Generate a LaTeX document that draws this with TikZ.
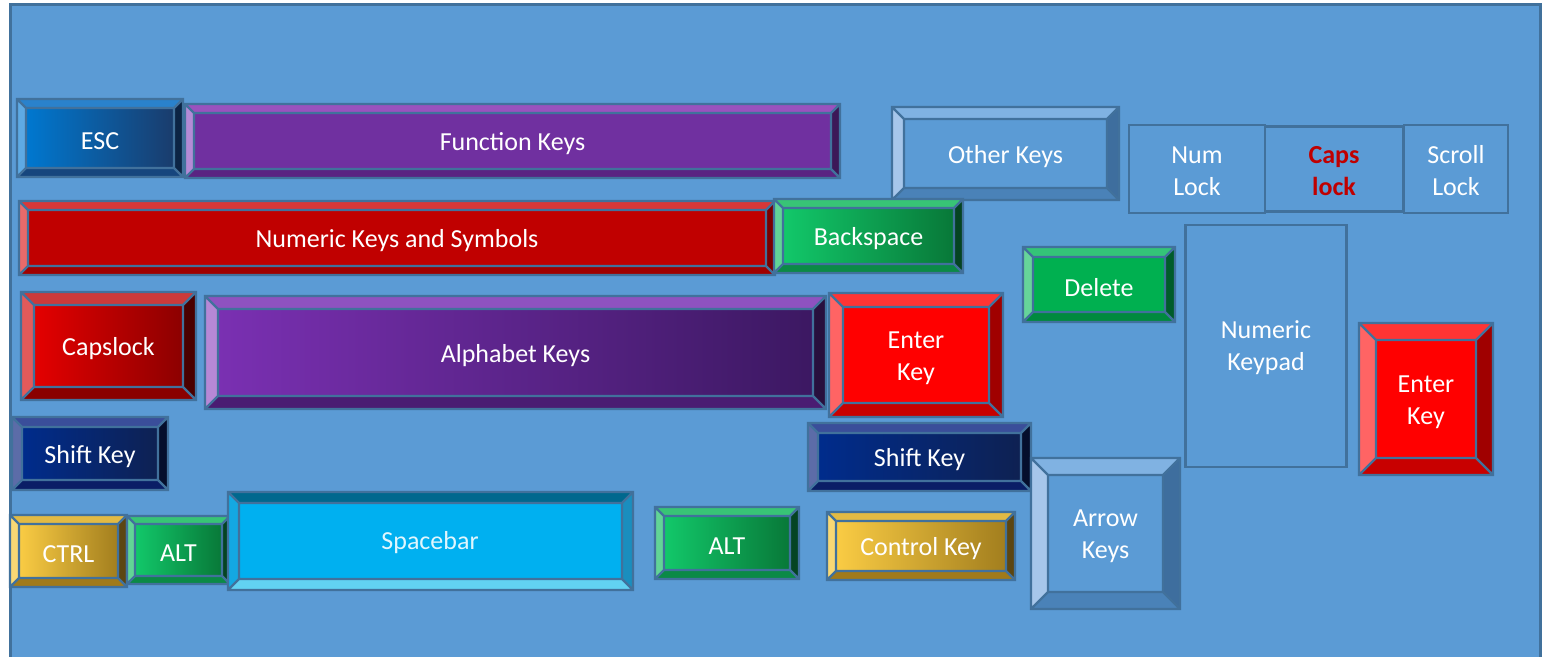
\documentclass[tikz,border=0pt]{standalone}
\usepackage{fontspec}
\setmainfont{Carlito}
\definecolor{bgblue}{HTML}{5B9BD5}
\definecolor{keyline}{HTML}{41719C}
\definecolor{capsred}{HTML}{C00000}
% esc
\definecolor{escF1}{HTML}{0078D0}\definecolor{escF2}{HTML}{1A3C6C}
\definecolor{escT}{HTML}{2A82CC}\definecolor{escL}{HTML}{5EAAE4}
\definecolor{escR}{HTML}{0C2444}\definecolor{escB}{HTML}{16467E}
% function purple
\definecolor{fnkF1}{HTML}{7030A0}\definecolor{fnkF2}{HTML}{7030A0}
\definecolor{fnkT}{HTML}{9A52BE}\definecolor{fnkL}{HTML}{B48AD6}
\definecolor{fnkR}{HTML}{3C1858}\definecolor{fnkB}{HTML}{5A2482}
% numeric dark red
\definecolor{numkF1}{HTML}{C00000}\definecolor{numkF2}{HTML}{C00000}
\definecolor{numkT}{HTML}{D83838}\definecolor{numkL}{HTML}{E86A6A}
\definecolor{numkR}{HTML}{7A0000}\definecolor{numkB}{HTML}{A00000}
% green gradient
\definecolor{grnF1}{HTML}{12C86A}\definecolor{grnF2}{HTML}{087838}
\definecolor{grnT}{HTML}{38C476}\definecolor{grnL}{HTML}{62D496}
\definecolor{grnR}{HTML}{054422}\definecolor{grnB}{HTML}{0B8A46}
% other blue
\definecolor{othF1}{HTML}{5B9BD5}\definecolor{othF2}{HTML}{5B9BD5}
\definecolor{othT}{HTML}{80B2E2}\definecolor{othL}{HTML}{A6C6EA}
\definecolor{othR}{HTML}{3E6E9E}\definecolor{othB}{HTML}{4A82B8}
% delete green
\definecolor{delF1}{HTML}{00B050}\definecolor{delF2}{HTML}{00B050}
\definecolor{delT}{HTML}{34C478}\definecolor{delL}{HTML}{66D49A}
\definecolor{delR}{HTML}{005C2A}\definecolor{delB}{HTML}{008A3E}
% capslock red gradient
\definecolor{capF1}{HTML}{E40000}\definecolor{capF2}{HTML}{8C0000}
\definecolor{capT}{HTML}{CC3A3A}\definecolor{capL}{HTML}{E25A5A}
\definecolor{capR}{HTML}{4A0000}\definecolor{capB}{HTML}{8A0000}
% alphabet purple gradient
\definecolor{alpF1}{HTML}{7A30B2}\definecolor{alpF2}{HTML}{3C1862}
\definecolor{alpT}{HTML}{8E52C0}\definecolor{alpL}{HTML}{B688D6}
\definecolor{alpR}{HTML}{28103E}\definecolor{alpB}{HTML}{4A1C72}
% enter red
\definecolor{entF1}{HTML}{FF0000}\definecolor{entF2}{HTML}{FF0000}
\definecolor{entT}{HTML}{FF3434}\definecolor{entL}{HTML}{FF6464}
\definecolor{entR}{HTML}{A00000}\definecolor{entB}{HTML}{C80000}
% shift navy
\definecolor{shfF1}{HTML}{002C8C}\definecolor{shfF2}{HTML}{0E2152}
\definecolor{shfT}{HTML}{3A4E9A}\definecolor{shfL}{HTML}{5C6CA8}
\definecolor{shfR}{HTML}{050E2C}\definecolor{shfB}{HTML}{0A1E66}
% ctrl gold
\definecolor{ctlF1}{HTML}{FACC44}\definecolor{ctlF2}{HTML}{A27E1E}
\definecolor{ctlT}{HTML}{E2BA44}\definecolor{ctlL}{HTML}{F8D874}
\definecolor{ctlR}{HTML}{5C4612}\definecolor{ctlB}{HTML}{A07A1A}
% spacebar cyan
\definecolor{spcF1}{HTML}{00B0F0}\definecolor{spcF2}{HTML}{00B0F0}
\definecolor{spcT}{HTML}{00688E}\definecolor{spcL}{HTML}{14A8E2}
\definecolor{spcR}{HTML}{1A8EBE}\definecolor{spcB}{HTML}{62D2F2}

\tikzset{
  keyedge/.style={draw=keyline, line width=2.4pt, line join=miter},
  keytext/.style={text=white, font=\fontsize{26}{32}\selectfont, align=center, inner sep=0pt},
  lockbox/.style={draw=keyline, line width=2.4pt, text=white, font=\fontsize{26}{32}\selectfont, align=center, inner sep=0pt},
}
% name, scheme, x1, y1, x2, y2, bevel, text
\newcommand\kcap[8]{%
  \fill[#2T] (#3,#4) -- (#5,#4) -- ({#5-#7},{#4+#7}) -- ({#3+#7},{#4+#7}) -- cycle;
  \fill[#2B] (#3,#6) -- (#5,#6) -- ({#5-#7},{#6-#7}) -- ({#3+#7},{#6-#7}) -- cycle;
  \fill[#2L] (#3,#4) -- ({#3+#7},{#4+#7}) -- ({#3+#7},{#6-#7}) -- (#3,#6) -- cycle;
  \fill[#2R] (#5,#4) -- ({#5-#7},{#4+#7}) -- ({#5-#7},{#6-#7}) -- (#5,#6) -- cycle;
  \shade[left color=#2F1, right color=#2F2] ({#3+#7},{#4+#7}) rectangle ({#5-#7},{#6-#7});
  \draw[keyedge] (#3,#4) rectangle (#5,#6) ({#3+#7},{#4+#7}) rectangle ({#5-#7},{#6-#7})
    (#3,#4) -- ({#3+#7},{#4+#7}) (#5,#4) -- ({#5-#7},{#4+#7})
    (#3,#6) -- ({#3+#7},{#6-#7}) (#5,#6) -- ({#5-#7},{#6-#7});
  \node[keytext] (#1) at ({(#3+#5)/2},{(#4+#6)/2+3}) {#8};
}

\begin{document}
\begin{tikzpicture}[x=1pt, y=-1pt]
\useasboundingbox (0,0) rectangle (1546,656);
\clip (0,0) rectangle (1546,656);
\fill[white] (0,0) rectangle (1546,656);
\fill[bgblue] (10,4) rectangle (1540,700);
\draw[keyline, line width=3pt] (10,4) rectangle (1540,700);

% row 1
\kcap{esc}{esc}{17}{99}{183}{177}{9}{ESC}
\kcap{fkeys}{fnk}{185}{104}{840}{178}{9}{Function Keys}
\kcap{other}{oth}{892}{107}{1119}{200}{12}{Other Keys}
\node[lockbox, minimum width=136pt, minimum height=88pt] (numlock) at (1197,169) {};
\node[keytext] (numlocktext) at (1197,171) {Num\\Lock};
\node[lockbox, minimum width=138pt, minimum height=85pt] (capslock) at (1334,169) {};
\node[keytext, text=capsred, font=\fontsize{26}{32}\selectfont\bfseries] (capslocktext) at (1334,171) {Caps\\lock};
\node[lockbox, minimum width=104pt, minimum height=88pt] (scrolllock) at (1456,169) {};
\node[keytext] (scrolllocktext) at (1456,171) {Scroll\\Lock};

% row 2
\kcap{numkeys}{numk}{19}{201}{775}{275}{9}{Numeric Keys and Symbols}
\kcap{backspace}{grn}{774}{199}{963}{273}{9}{Backspace}
\kcap{delete}{del}{1023}{247}{1175}{322}{10}{Delete}
\node[lockbox, minimum width=161pt, minimum height=242pt] (keypad) at (1266,346) {};
\node[keytext] (keypadtext) at (1266,348) {Numeric\\Keypad};

% row 3
\kcap{capskey}{cap}{21}{292}{196}{400}{13}{Capslock}
\kcap{alpha}{alp}{205}{296}{826}{409}{13}{Alphabet Keys}
\kcap{enter}{ent}{829}{293}{1003}{417}{14}{Enter\\Key}
\kcap{enterpad}{ent}{1359}{323}{1493}{475}{17}{Enter\\Key}

% row 4
\kcap{shiftl}{shf}{12}{417}{168}{490}{10}{Shift Key}
\kcap{shiftr}{shf}{808}{423}{1031}{491}{10}{Shift Key}

% row 5
\kcap{ctrl}{ctl}{10}{515}{127}{587}{9}{CTRL}
\kcap{altl}{grn}{127}{516}{230}{584}{8}{ALT}
\kcap{space}{spc}{228}{492}{633}{590}{11}{}
\node[keytext, text=white!88!spcF1] (spacelabel) at (430,543) {Spacebar};
\kcap{altr}{grn}{655}{507}{799}{579}{9}{ALT}
\kcap{control}{ctl}{827}{512}{1015}{580}{9}{Control Key}
\kcap{arrows}{oth}{1031}{458}{1180}{609}{17}{Arrow\\Keys}
\end{tikzpicture}
\end{document}
